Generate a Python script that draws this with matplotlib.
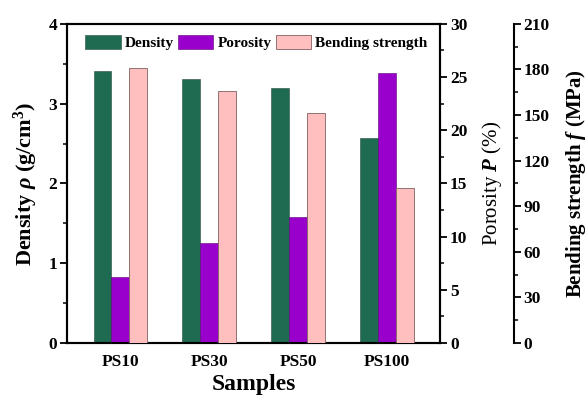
import numpy as np
import matplotlib.pyplot as plt
from matplotlib.ticker import MultipleLocator

plt.rcParams['font.family'] = 'Liberation Serif'
plt.rcParams['font.weight'] = 'bold'
plt.rcParams['mathtext.fontset'] = 'custom'
plt.rcParams['mathtext.rm'] = 'Liberation Serif:bold'
plt.rcParams['mathtext.it'] = 'Liberation Serif:italic:bold'
plt.rcParams['mathtext.bf'] = 'Liberation Serif:bold'

# data
samples = ['PS10', 'PS30', 'PS50', 'PS100']
density = [3.41, 3.31, 3.20, 2.57]        # g/cm3
porosity = [6.2, 9.4, 11.8, 25.4]         # %
bending = [181, 166, 151, 102]            # MPa

c_den = '#1E6B52'
c_por = '#9900CC'
c_ben = '#FFBFBF'

x = np.arange(len(samples))
w = 0.2

fig = plt.figure(figsize=(5.87, 3.97), dpi=100)
ax = fig.add_axes([0.114, 0.136, 0.636, 0.804])
ax2 = ax.twinx()
ax3 = ax.twinx()
ax3.spines['right'].set_position(('outward', 53))

b1 = ax.bar(x - w, density, w, color=c_den, edgecolor='#2a4a3a', linewidth=0.4, label='Density')
b2 = ax2.bar(x, porosity, w, color=c_por, edgecolor='#5a0077', linewidth=0.4, label='Porosity')
b3 = ax3.bar(x + w, bending, w, color=c_ben, edgecolor='#806060', linewidth=0.6, label='Bending strength')

ax.set_xlim(-0.6, 3.6)
ax.set_ylim(0, 4)
ax2.set_ylim(0, 30)
ax3.set_ylim(0, 210)

ax.set_xticks(x)
ax.set_xticklabels(samples)
ax.yaxis.set_major_locator(MultipleLocator(1))
ax.yaxis.set_minor_locator(MultipleLocator(0.5))
ax2.yaxis.set_major_locator(MultipleLocator(5))
ax2.yaxis.set_minor_locator(MultipleLocator(2.5))
ax3.yaxis.set_major_locator(MultipleLocator(30))
ax3.yaxis.set_minor_locator(MultipleLocator(15))

for a in (ax, ax2, ax3):
    for s in a.spines.values():
        s.set_linewidth(1.5)
    a.tick_params(which='major', direction='out', length=5, width=1.3, labelsize=12.5, pad=2)
    a.tick_params(which='minor', direction='out', length=3, width=1.1)
ax.tick_params(axis='x', length=0, pad=8)
ax3.spines['left'].set_visible(False)
ax3.spines['top'].set_visible(False)
ax3.spines['bottom'].set_visible(False)

ax.set_xlabel('Samples', fontsize=17, fontweight='bold', labelpad=3)
ax.set_ylabel(r'Density $\it{\rho}$ (g/cm$^3$)', fontsize=16, fontweight='bold', labelpad=6)
ax2.set_ylabel(r'Porosity $P$ (%)', fontsize=15, fontweight='normal', labelpad=9)
ax3.set_ylabel(r'Bending strength $f$ (MPa)', fontsize=15, fontweight='bold', labelpad=10)

ax.legend(handles=[b1, b2, b3], loc='upper center', bbox_to_anchor=(0.508, 1.0), ncol=3,
          frameon=False, fontsize=11, handlelength=2.3, handleheight=1.1,
          columnspacing=0.25, handletextpad=0.3, borderaxespad=0.3)

fig.savefig('out.png', dpi=100)
plt.close()
